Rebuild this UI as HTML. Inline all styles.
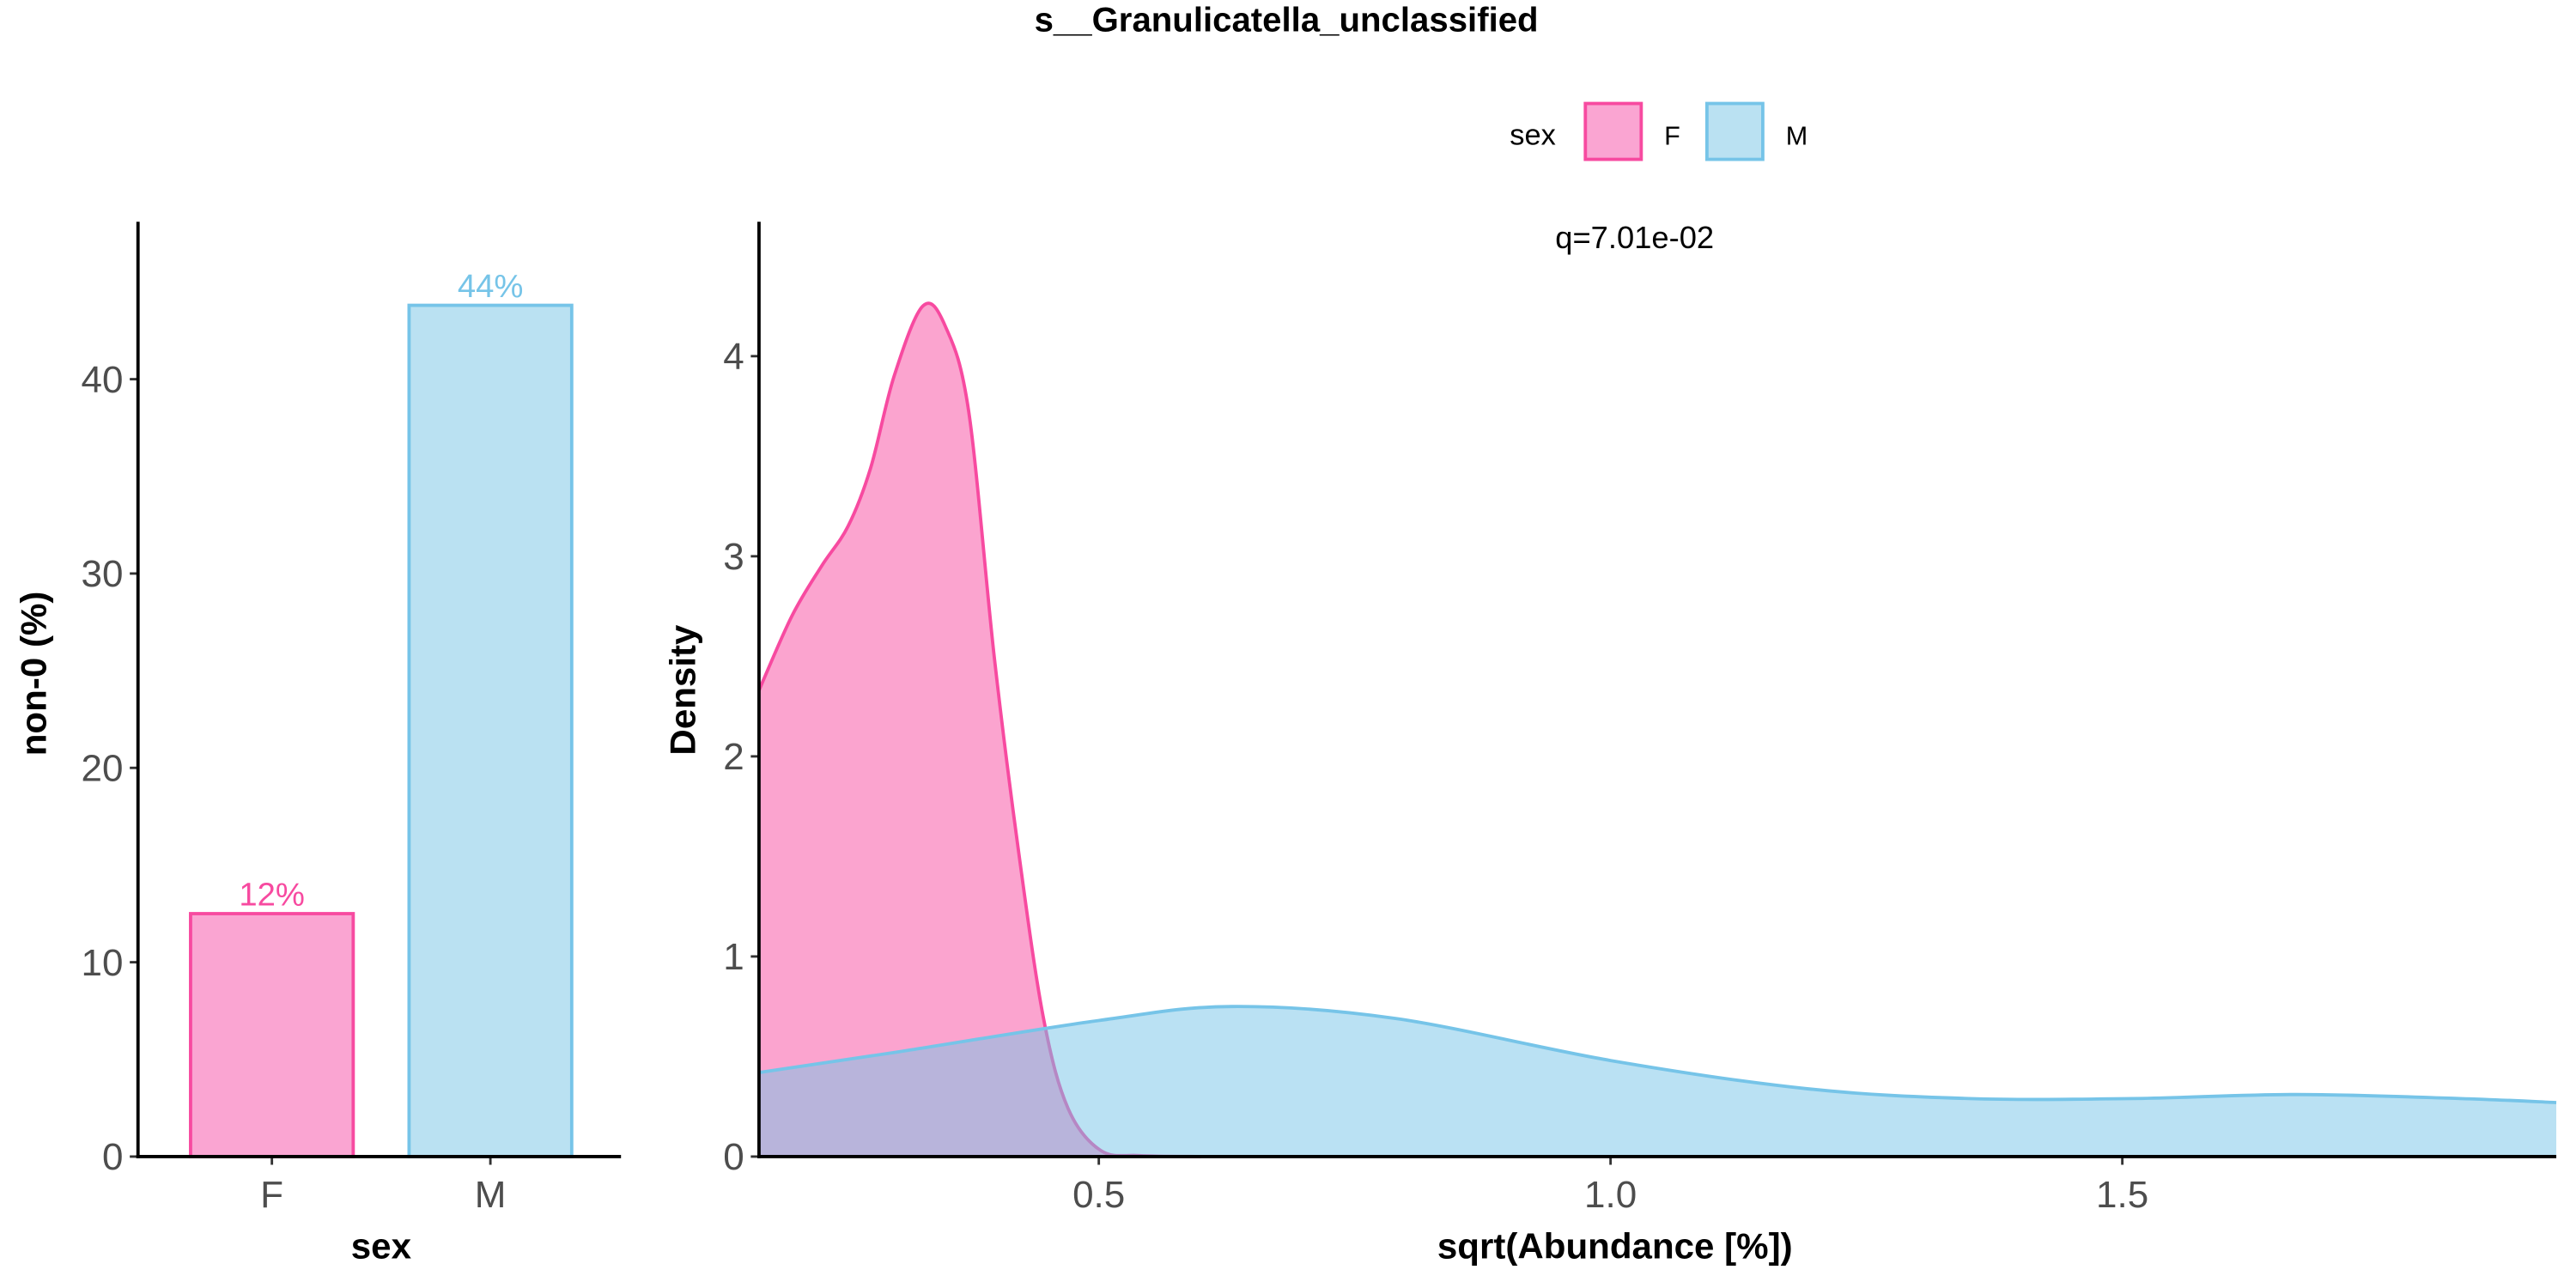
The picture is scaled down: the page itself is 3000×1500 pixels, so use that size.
<!DOCTYPE html>
<html><head><meta charset="utf-8"><style>
html,body{margin:0;padding:0;background:#fff;}
svg{display:block;font-family:"Liberation Sans",Arial,sans-serif;}
</style></head><body>
<svg id="chart" width="3000" height="1500" viewBox="0 0 1568 784" xmlns="http://www.w3.org/2000/svg">
<text x="783" y="19" text-anchor="middle" font-size="21" font-weight="bold">s__Granulicatella_unclassified</text>
<g>
<text x="933" y="88" text-anchor="middle" font-size="18">sex</text>
<rect x="965" y="63" width="34" height="34" fill="#FAA5D2" stroke="#F74AA0" stroke-width="2"/>
<text x="1013" y="88" font-size="16">F</text>
<rect x="1039" y="63" width="34" height="34" fill="#BAE1F2" stroke="#76C4E8" stroke-width="2"/>
<text x="1087" y="88" font-size="16">M</text>
</g>
<g id="bars"></g>
<g id="dens"></g>
</svg>
<script>
const NS="http://www.w3.org/2000/svg";
const barCats=["F","M"];
const barVals=[12.5,43.8];
const barLabels=["12%","44%"];
const barTicks=[0,10,20,30,40];
const densTicksY=[0,1,2,3,4];
const densTicksX=[0.5,1.0,1.5];
const densTickLabelsX=["0.5","1.0","1.5"];
const fX=[0.168,0.2,0.229,0.255,0.277,0.3,0.328,0.35,0.373,0.398,0.422,0.446,0.47,0.502,0.54,0.6];
const fY=[2.33,2.7,2.95,3.15,3.44,3.9,4.25,4.15,3.72,2.49,1.51,0.69,0.24,0.03,0.005,0];
const mX=[0.168,0.3,0.5,0.63,0.79,1.0,1.19,1.35,1.51,1.67,1.83,1.924];
const mY=[0.42,0.52,0.68,0.75,0.69,0.48,0.34,0.29,0.29,0.31,0.29,0.27];
const colF="#F74AA0", colM="#76C4E8", fillF="#FAA5D2", fillM="#BAE1F2";

function mk(tag,attrs,parent,text){const e=document.createElementNS(NS,tag);for(const k in attrs)e.setAttribute(k,attrs[k]);if(text!==undefined)e.textContent=text;parent.appendChild(e);return e;}

const bg=document.getElementById('bars');
const bx0=84,by0=704,bPerUnit=11.83;
const by=v=>by0-v*bPerUnit;
const bandX=i=>116+i*133;
const bw=99;
barCats.forEach((c,i)=>{
  const x=bandX(i);
  const r=mk('rect',{x:x,y:by(barVals[i]),width:bw,height:by0-by(barVals[i]),fill:i?fillM:fillF,stroke:i?colM:colF,'stroke-width':2},bg);
  
  
  const t=mk('text',{x:x+bw/2,y:by(barVals[i])-5,'text-anchor':'middle','font-size':20,fill:i?colM:colF},bg,barLabels[i]);
  
  
  mk('line',{x1:x+bw/2,x2:x+bw/2,y1:by0,y2:by0+5,stroke:'#333','stroke-width':1.5},bg);
  const xl=mk('text',{x:x+bw/2,y:by0+31,'text-anchor':'middle','font-size':23,fill:'#4d4d4d'},bg,c);
  
  
});
barTicks.forEach(v=>{
  mk('line',{x1:bx0-5,x2:bx0,y1:by(v),y2:by(v),stroke:'#333','stroke-width':1.5},bg);
  const t=mk('text',{x:bx0-9,y:by(v)+8,'text-anchor':'end','font-size':23,fill:'#4d4d4d'},bg,String(v));
  
  
});
mk('line',{x1:bx0,x2:bx0,y1:135,y2:by0+1,stroke:'#000','stroke-width':2},bg);
mk('line',{x1:bx0-1,x2:378,y1:by0,y2:by0,stroke:'#000','stroke-width':2},bg);
let t=mk('text',{x:232,y:766,'text-anchor':'middle','font-size':22,'font-weight':'bold'},bg,'sex');

t=mk('text',{x:0,y:0,'text-anchor':'middle','font-size':22,'font-weight':'bold',transform:'translate(28,410) rotate(-90)'},bg,'non-0 (%)');


const dg=document.getElementById('dens');
const dx0=462,dx1=1556,dy0=704;
const xmin=0.168,xmax=1.924;
const dx=v=>dx0+(v-xmin)/(xmax-xmin)*(dx1-dx0);
const dy=v=>dy0-v*121.8;
function smooth(xs,ys){
  const p=xs.map((x,i)=>[dx(x),dy(ys[i])]);
  let d='M'+p[0][0]+','+p[0][1];
  for(let i=0;i<p.length-1;i++){
    const p0=p[i-1]||p[i],p1=p[i],p2=p[i+1],p3=p[i+2]||p2;
    const c1=[p1[0]+(p2[0]-p0[0])/6,p1[1]+(p2[1]-p0[1])/6];
    const c2=[p2[0]-(p3[0]-p1[0])/6,p2[1]-(p3[1]-p1[1])/6];
    d+=' C'+c1[0]+','+c1[1]+' '+c2[0]+','+c2[1]+' '+p2[0]+','+p2[1];
  }
  return d;
}
function area(xs,ys,col,name){
  const line=smooth(xs,ys);
  const a=mk('path',{d:line+' L'+dx(xs[xs.length-1])+','+dy0+' L'+dx(xs[0])+','+dy0+' Z',fill:col,'fill-opacity':0.5,stroke:'none'},dg);
  
  const l=mk('path',{d:line,fill:'none',stroke:col,'stroke-width':2},dg);
  
}
area(fX,fY,colF,'density-f');
area(mX,mY,colM,'density-m');
densTicksY.forEach(v=>{
  mk('line',{x1:dx0-5,x2:dx0,y1:dy(v),y2:dy(v),stroke:'#333','stroke-width':1.5},dg);
  const t=mk('text',{x:dx0-9,y:dy(v)+8,'text-anchor':'end','font-size':23,fill:'#4d4d4d'},dg,String(v));
  
});
densTicksX.forEach((v,i)=>{
  mk('line',{x1:dx(v),x2:dx(v),y1:dy0,y2:dy0+5,stroke:'#333','stroke-width':1.5},dg);
  const t=mk('text',{x:dx(v),y:dy0+31,'text-anchor':'middle','font-size':23,fill:'#4d4d4d'},dg,densTickLabelsX[i]);
  
});
mk('line',{x1:dx0,x2:dx0,y1:135,y2:dy0+1,stroke:'#000','stroke-width':2},dg);
mk('line',{x1:dx0-1,x2:dx1,y1:dy0,y2:dy0,stroke:'#000','stroke-width':2},dg);
t=mk('text',{x:983,y:766,'text-anchor':'middle','font-size':22,'font-weight':'bold'},dg,'sqrt(Abundance [%])');

t=mk('text',{x:0,y:0,'text-anchor':'middle','font-size':22,'font-weight':'bold',transform:'translate(423,420) rotate(-90)'},dg,'Density');

t=mk('text',{x:995,y:151,'text-anchor':'middle','font-size':19},dg,'q=7.01e-02');

</script>
</body></html>
